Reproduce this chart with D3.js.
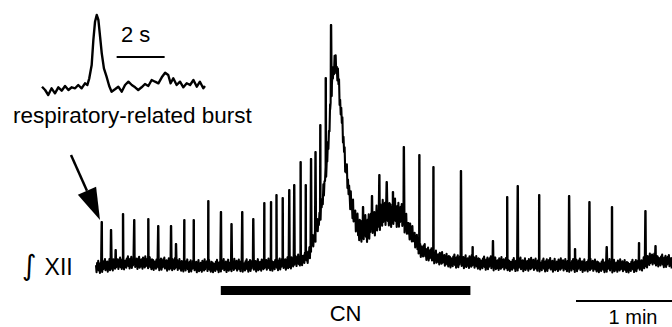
<!DOCTYPE html>
<html>
<head>
<meta charset="utf-8">
<script src="https://cdn.jsdelivr.net/npm/d3@7"></script>
<style>
  body { margin: 0; background: #fff; }
  svg text { font-family: "Liberation Sans", Arial, sans-serif; fill: #000; }
</style>
</head>
<body>
<div id="chart"></div>
<script>
// Registro integrado XII (tiempo en s, nivel en unidades arbitrarias)
const totalSeconds = 360;
const cnStart = 78, cnEnd = 234;
const minuteBar = [300, 360];

// Envolvente lenta del trazo
const envTime  = [0, 21, 65, 102, 121, 127, 133, 137, 140, 142.5, 145, 147, 149, 151, 153, 156, 158.5, 161, 164, 169, 176, 182, 187.5, 192, 197.5, 202.5, 209, 218, 253, 290, 332.5, 340, 347.5, 360];
const envLevel = [-2, 3, -1, 0, 2, 5, 10, 30, 50, 75, 115, 175, 203, 195, 155, 100, 70, 50, 37, 37, 47, 53, 53, 47, 30, 17, 10, 5, 1, 0, -1, 0, 6, 3, -1];

// Amplitud del ruido a lo largo del registro
const noiseTime = [0, 127, 137, 146, 155, 162, 172, 187, 196, 209, 360];
const noiseAmp  = [6.5, 6.5, 8, 11, 11, 13, 15, 15, 10, 7, 6.5];

// Ráfagas respiratorias: tiempo (s) y nivel del pico
const burstTime  = [3.6, 9.4, 12.3, 16.9, 23.9, 32.7, 38.9, 46.9, 50, 55.2, 61.1, 70.2, 78.1, 84.7, 91.4, 98.3, 105.2, 109.4, 112.8, 116.7, 120.8, 123.9, 127.9, 131.1, 134.4, 137.2, 140.2, 143.6, 146.9, 166.9, 172.5, 177.1, 181.7, 185.6, 192.4, 202.1, 210.9, 228.1, 235.4, 248.1, 257, 263.6, 277, 295.7, 299.4, 308.4, 319.2, 322.5, 339.4, 343.4, 349.7];
const burstLevel = [43, 35, 15, 51, 45, 46, 39, 39, 21, 45, 45, 64, 53, 41, 53, 46, 62, 63, 70, 67, 75, 80, 103, 80, 106, 113, 140, 187, 240, 58, 69, 90, 83, 73, 118, 110, 98, 94, 18, 24, 68, 79, 70, 69, 16, 63, 18, 58, 22, 54, 19];

// Textura del ruido de base
const baselineNoise = [0.3, -0.8, 0.6, -0.2, 0.9, -0.6, 0.1, -1, 0.5, -0.3, 0.8, -0.9, 0.2, -0.5, 0.7, -0.1, 1, -0.7, 0.4, -0.4, 0.6, -1, 0.1, -0.2, 0.9, -0.8, 0.3, -0.6, 0.5, 0, -0.9, 0.8, -0.3, 0.2, -0.7, 1, -0.5, 0.4, -0.1, 0.7, -0.8, 0.2, -0.4, 0.9, -0.6, 0.1, -0.9, 0.6, -0.2, 0.5, -1, 0.3, -0.3];

// Detalle de una ráfaga (recuadro superior)
const insetTime  = [0, 0.13, 0.26, 0.40, 0.54, 0.68, 0.82, 0.96, 1.10, 1.24, 1.38, 1.51, 1.65, 1.79, 1.89, 1.97, 2.07, 2.14, 2.21, 2.28, 2.35, 2.42, 2.49, 2.58, 2.69, 2.80, 2.90, 3.04, 3.18, 3.32, 3.46, 3.60, 3.74, 3.88, 4.01, 4.15, 4.29, 4.43, 4.57, 4.71, 4.85, 4.99, 5.13, 5.26, 5.36, 5.47, 5.61, 5.75, 5.89, 6.03, 6.17, 6.31, 6.45, 6.58, 6.72, 6.79];
const insetLevel = [0.3, -3, -8, -1.3, -6.3, -0.3, -3.7, 1, -3, -0.3, -1.3, 2, -1.3, 3.7, 2, 8.7, 22, 47, 65.3, 72, 67, 50.3, 33.7, 18.7, 10.3, 1, -4.7, -2.3, 0.3, -4.7, 2, 5.3, 2, -0.3, -3, -0.3, 3, 1, 7, 5.3, 3.7, 9.7, 14.3, 12, 3.7, 8.7, 2, 5.3, -0.3, 3.7, 2, 7, 0.3, 5.3, -1.3, 1];
const insetBar = [3.11, 5.11];

const width = 672, height = 327;

let svg = d3.select('#chart').append('svg')
    .attr('width', width)
    .attr('height', height);

//Escalas del trazo principal
let x = d3.scaleLinear().domain([0, totalSeconds]).range([96, 672]);
let y = d3.scaleLinear().domain([0, 250]).range([265, 15]);
let env = d3.scaleLinear().domain(envTime).range(envLevel).clamp(true);
let amp = d3.scaleLinear().domain(noiseTime).range(noiseAmp).clamp(true);

//Puntos del trazo
let pts = [];
let k = 0;
for (let t = 0; t <= totalSeconds; t += 0.35) {
    pts.push([t, env(t) + baselineNoise[k % baselineNoise.length] * amp(t)]);
    k++;
}
burstTime.forEach(function(t, i) {
    pts.push([t - 0.55, env(t - 0.55)]);
    pts.push([t - 0.1, burstLevel[i]]);
    pts.push([t + 0.1, burstLevel[i]]);
    pts.push([t + 0.55, env(t + 0.55)]);
});
pts.sort(function(a, b) { return a[0] - b[0]; });

let line = d3.line()
    .x(function(d) { return x(d[0]); })
    .y(function(d) { return y(d[1]); });

svg.append('path')
    .datum(pts)
    .attr('d', line)
    .attr('fill', 'none')
    .attr('stroke', '#000')
    .attr('stroke-width', 2.1)
    .attr('stroke-linejoin', 'round');

//Barra CN
svg.append('rect')
    .attr('x', x(cnStart))
    .attr('y', 286)
    .attr('width', x(cnEnd) - x(cnStart))
    .attr('height', 9)
    .attr('fill', '#000');

svg.append('text')
    .attr('x', (x(cnStart) + x(cnEnd)) / 2)
    .attr('y', 321)
    .attr('text-anchor', 'middle')
    .style('font-size', '22px')
    .text('CN');

//Escala 1 min
svg.append('line')
    .attr('x1', x(minuteBar[0])).attr('x2', x(minuteBar[1]))
    .attr('y1', 301).attr('y2', 301)
    .attr('stroke', '#000').attr('stroke-width', 2);

svg.append('text')
    .attr('x', 633)
    .attr('y', 324)
    .attr('text-anchor', 'middle')
    .style('font-size', '20px')
    .text('1 min');

//Etiqueta del trazo
let label = svg.append('text')
    .attr('x', 22)
    .attr('y', 275);
label.append('tspan')
    .style('font-size', '28px')
    .style('font-family', '"DejaVu Sans", sans-serif')
    .text('\u222B');
label.append('tspan')
    .attr('dx', 8)
    .style('font-size', '23px')
    .text('XII');

//Recuadro de la ráfaga
let xi = d3.scaleLinear().domain([0, 6.8]).range([42, 205.2]);
let yi = d3.scaleLinear().domain([0, 72]).range([87, 15]);

svg.append('path')
    .datum(insetTime.map(function(t, i) { return [t, insetLevel[i]]; }))
    .attr('d', d3.line().x(function(d) { return xi(d[0]); }).y(function(d) { return yi(d[1]); }))
    .attr('fill', 'none')
    .attr('stroke', '#000')
    .attr('stroke-width', 2.4)
    .attr('stroke-linejoin', 'round');

svg.append('line')
    .attr('x1', xi(insetBar[0])).attr('x2', xi(insetBar[1]))
    .attr('y1', 57).attr('y2', 57)
    .attr('stroke', '#000').attr('stroke-width', 2);

svg.append('text')
    .attr('x', 121)
    .attr('y', 42)
    .style('font-size', '22px')
    .text('2 s');

svg.append('text')
    .attr('x', 13)
    .attr('y', 123)
    .style('font-size', '22.5px')
    .text('respiratory-related burst');

//Flecha
let start = [71, 155], tip = [100, 220];
let dx = tip[0] - start[0], dy = tip[1] - start[1];
let len = Math.sqrt(dx * dx + dy * dy);
let ux = dx / len, uy = dy / len;
let headLen = 32, headHalf = 10;
let bx = tip[0] - ux * headLen, by = tip[1] - uy * headLen;

svg.append('line')
    .attr('x1', start[0]).attr('y1', start[1])
    .attr('x2', bx).attr('y2', by)
    .attr('stroke', '#000').attr('stroke-width', 2.5);

svg.append('polygon')
    .attr('points', [tip, [bx - uy * headHalf, by + ux * headHalf], [bx + uy * headHalf, by - ux * headHalf]].map(function(p) { return p.join(','); }).join(' '))
    .attr('fill', '#000');
</script>
</body>
</html>
